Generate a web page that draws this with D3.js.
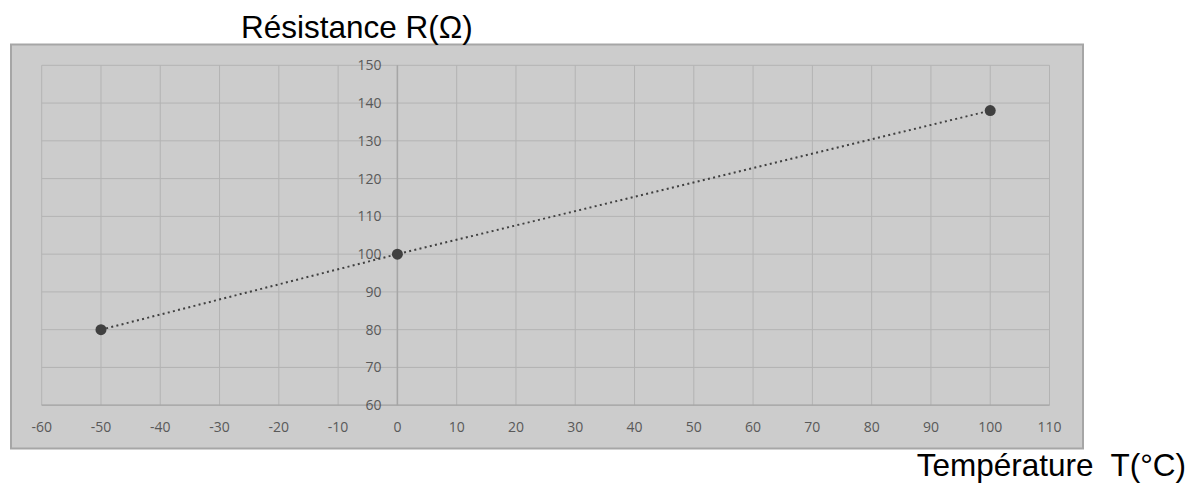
<!DOCTYPE html>
<meta charset="utf-8">
<script src="https://d3js.org/d3.v7.min.js"></script>
<body style="margin: 0; background: white;">
<svg id="vis"></svg>
</body>
<script>

  /***** DATA *****/
  var temperatures = [-50, 0, 100]
  var resistances = [80, 100, 138]
  var xTicks = [-60, -50, -40, -30, -20, -10, 0, 10, 20, 30, 40, 50, 60, 70, 80, 90, 100, 110]
  var yTicks = [60, 70, 80, 90, 100, 110, 120, 130, 140, 150]
  var yTitle = 'Résistance R(Ω)'
  var xTitle = 'Température  T(°C)'

  /***** SETUP *****/
  var width = 1196
  var height = 495

  var svg = d3.select('#vis')
    .attr('width', width)
    .attr('height', height)

  var x = d3.scaleLinear().domain([-60, 110]).range([41.7, 1049.5])
  var y = d3.scaleLinear().domain([60, 150]).range([405.2, 65.3])

  var labelFont = 'Open Sans, Liberation Sans, sans-serif'

  // Grey chart panel
  svg.append('rect')
    .attr('x', 11)
    .attr('y', 44.5)
    .attr('width', 1072)
    .attr('height', 404)
    .attr('fill', '#cccccc')
    .attr('stroke', '#a6a6a6')
    .attr('stroke-width', 2)

  // Gridlines
  svg.append('g')
    .selectAll('line')
    .data(xTicks)
    .enter()
    .append('line')
    .attr('x1', function(d) { return x(d) })
    .attr('x2', function(d) { return x(d) })
    .attr('y1', y(150))
    .attr('y2', y(60))
    .attr('stroke', '#b3b3b3')
    .attr('stroke-width', 1)

  svg.append('g')
    .selectAll('line')
    .data(yTicks)
    .enter()
    .append('line')
    .attr('x1', x(-60))
    .attr('x2', x(110))
    .attr('y1', function(d) { return y(d) })
    .attr('y2', function(d) { return y(d) })
    .attr('stroke', '#b3b3b3')
    .attr('stroke-width', 1)

  // Axes lines
  svg.append('line')
    .attr('x1', x(-60)).attr('x2', x(110))
    .attr('y1', y(60)).attr('y2', y(60))
    .attr('stroke', '#a6a6a6').attr('stroke-width', 1.2)

  svg.append('line')
    .attr('x1', x(0)).attr('x2', x(0))
    .attr('y1', y(150)).attr('y2', y(60))
    .attr('stroke', '#a6a6a6').attr('stroke-width', 1.5)

  // X tick labels
  svg.append('g')
    .selectAll('text')
    .data(xTicks)
    .enter()
    .append('text')
    .text(function(d) { return d })
    .attr('x', function(d) { return x(d) })
    .attr('y', 432)
    .attr('text-anchor', 'middle')
    .style('font-family', labelFont)
    .style('font-size', '14px')
    .style('fill', '#595959')

  // Y tick labels
  svg.append('g')
    .selectAll('text')
    .data(yTicks)
    .enter()
    .append('text')
    .text(function(d) { return d })
    .attr('x', x(0) - 16)
    .attr('y', function(d) { return y(d) + 5 })
    .attr('text-anchor', 'end')
    .style('font-family', labelFont)
    .style('font-size', '14px')
    .style('fill', '#595959')

  // Data line (dotted)
  var points = temperatures.map(function(t, i) { return [t, resistances[i]] })

  var line = d3.line()
    .x(function(d) { return x(d[0]) })
    .y(function(d) { return y(d[1]) })

  svg.append('path')
    .datum(points)
    .attr('d', line)
    .attr('fill', 'none')
    .attr('stroke', '#404040')
    .attr('stroke-width', 2)
    .attr('stroke-dasharray', '2,3.3')

  // Markers
  svg.append('g')
    .selectAll('circle')
    .data(points)
    .enter()
    .append('circle')
    .attr('cx', function(d) { return x(d[0]) })
    .attr('cy', function(d) { return y(d[1]) })
    .attr('r', 5.5)
    .attr('fill', '#404040')

  // Axis titles
  svg.append('text')
    .text(yTitle)
    .attr('x', 241)
    .attr('y', 38)
    .style('font-family', 'Liberation Sans, Arial, sans-serif')
    .style('font-size', '31.5px')
    .style('fill', '#000')

  svg.append('text')
    .text(xTitle)
    .attr('x', 1186)
    .attr('y', 476)
    .attr('text-anchor', 'end')
    .style('font-family', 'Liberation Sans, Arial, sans-serif')
    .style('font-size', '31.5px')
    .style('fill', '#000')
    .style('white-space', 'pre')

</script>
